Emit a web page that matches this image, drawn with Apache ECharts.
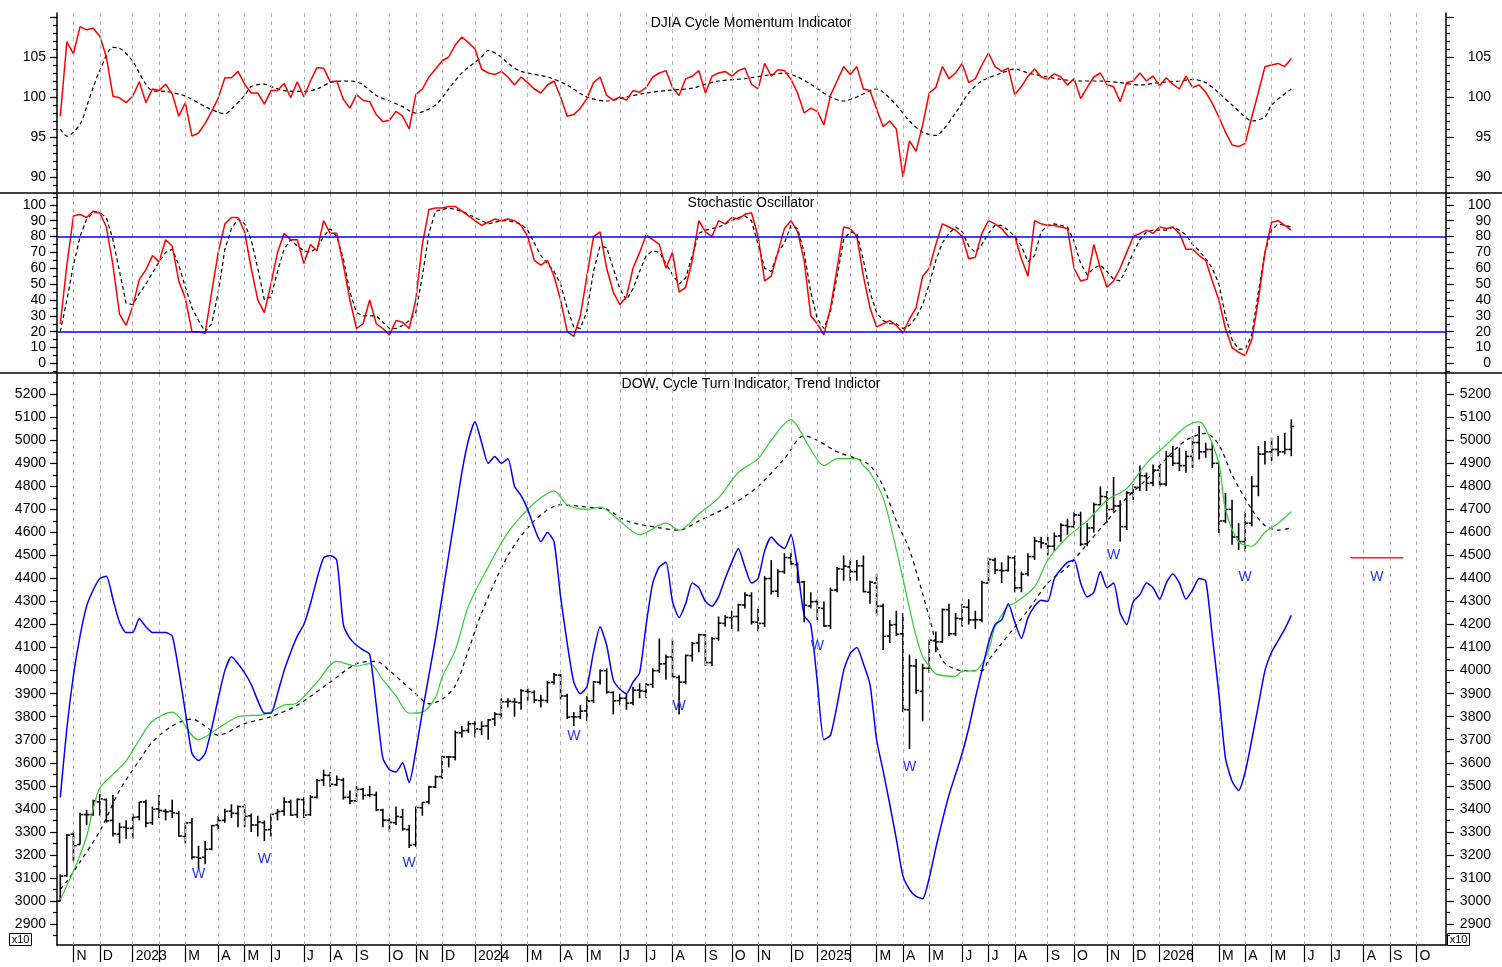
<!DOCTYPE html>
<html><head><meta charset="utf-8">
<script src="https://cdn.jsdelivr.net/npm/echarts@6/dist/echarts.min.js"></script>
<style>html,body{margin:0;padding:0;background:#fff}#c{width:1502px;height:967px}</style>
</head><body><div id="c"></div>
<script>
// ---------- categories (weekly, Friday dates) ----------
const startDate = [2022, 9, 21];
const weekCount = 211;
const monthLetters = ['', '', 'M', 'A', 'M', 'J', 'J', 'A', 'S', 'O', 'N', 'D'];

// ---------- tick labels ----------
const momLabels = [90, 95, 100, 105];
const momMajor = [90, 95, 100, 105, 110];
const stochLabels = [0, 10, 20, 30, 40, 50, 60, 70, 80, 90, 100];
const stochLines = [20, 80];
const dowLabels = [2900,3000,3100,3200,3300,3400,3500,3600,3700,3800,3900,4000,4100,4200,4300,4400,4500,4600,4700,4800,4900,5000,5100,5200];

// ---------- DJIA Cycle Momentum Indicator ----------
const momentum = [97.6,106.9,105.4,108.8,108.4,108.6,107.6,105.0,100.1,99.9,99.3,100.1,101.9,99.3,101.0,100.8,101.6,100.4,97.6,99.3,
95.1,95.5,96.7,98.2,99.9,102.4,102.4,103.2,101.6,100.5,100.5,99.1,100.8,100.8,101.7,99.9,101.9,100.0,102.0,103.7,
103.6,101.9,102.0,99.7,98.6,100.3,99.6,99.4,97.8,96.9,97.1,98.2,97.6,96.0,100.3,101.0,102.5,103.5,104.5,105.0,
106.5,107.5,106.8,106.0,103.5,103.0,102.8,103.2,102.5,101.5,102.5,101.8,101.0,100.5,101.5,102.0,100.0,97.6,97.8,98.6,
99.8,101.8,102.5,100.2,99.6,100.0,99.6,100.8,100.6,101.2,102.5,103.0,103.3,101.2,100.2,102.3,102.6,103.3,100.5,102.6,
103.0,103.2,102.6,103.3,103.6,101.6,101.0,104.2,102.6,103.4,103.3,102.2,100.5,98.0,98.6,98.2,96.5,100.2,102.0,103.8,
102.8,103.8,101.0,100.8,98.5,96.3,97.0,96.0,90.0,94.5,93.2,96.5,100.5,101.2,103.8,102.3,103.0,104.2,101.8,102.3,
104.0,105.5,103.8,103.2,103.6,100.3,101.3,102.6,103.5,102.5,102.2,102.9,102.5,101.5,102.3,99.8,101.2,102.5,103.0,101.5,
101.3,99.4,101.8,102.0,103.0,102.0,102.6,101.4,102.4,101.6,101.0,102.6,101.2,101.5,100.6,99.2,97.5,95.6,94.0,93.8,
94.2,97.5,100.6,103.8,104.0,104.2,103.8,104.8];
const momentumAvg = [[0,96],[1,95.1],[3,96.6],[4,98.8],[5,101.2],[6,103.3],[8,106.2],[9,106.1],[11,104.5],[12,103],[13,101.6],[14,100.8],
[16,100.7],[19,100.1],[22,98.8],[24,98.1],[25,97.9],[26,98.5],[28,100.2],[29,101.3],[31,101.6],[32,101.3],[34,100.8],[37,100.7],[39,101],
[41,101.8],[43,102],[45,101.9],[46,101.5],[48,100.2],[50,99.5],[52,98.8],[54,98],[57,99],[59,101],[61,103],[64,105],[65,105.8],[67,105],
[68,104.2],[70,103.2],[74,102.5],[77,101.5],[80,100],[83,99.5],[86,100],[89,100.5],[92,100.8],[96,101.1],[98,101.6],[100,102],[104,102.3],
[108,102.8],[110,103],[112,102.5],[114,101.6],[117,100],[119,99.5],[121,100],[124,101],[125,100.6],[127,99],[129,97],[131,95.6],[133,95.2],
[134,95.8],[136,98],[138,100.5],[140,102],[143,103],[145,103.5],[147,103],[150,102.5],[152,102.2],[155,102],[158,102],[161,101.8],[164,101.5],
[167,101.8],[170,102],[172,102.2],[174,101.8],[176,100.5],[178,99],[180,97.5],[181,97],[183,97.5],[184,99],[187,101]];

// ---------- Stochastic Oscillator ----------
const stochK = [25,62,93,94,92,96,95,86,62,31,24,36,53,59,68,64,78,74,52,41,
20,20,19,45,70,88,92,92,83,60,40,32,50,70,82,78,78,63,75,71,
90,82,82,62,40,22,25,40,25,22,18,27,26,22,40,75,97,98,98,99,
99,96,93,90,87,89,91,90,91,90,87,80,65,62,65,55,40,20,17,30,
55,80,83,60,45,37,42,60,70,81,78,75,60,70,45,48,65,90,83,80,
90,88,92,91,94,95,80,52,55,70,85,90,83,65,30,25,18,35,60,86,
85,80,55,35,23,25,27,24,19,28,35,55,60,75,88,86,84,80,66,67,
82,90,88,85,80,80,66,55,90,88,87,87,86,85,60,52,53,75,60,48,
52,60,70,80,82,84,82,86,85,86,82,72,72,68,65,52,40,22,10,7,
5,15,40,70,89,90,87,84];
const stochD = [20,40,62,80,91,95,95,92,78,58,38,37,44,50,57,64,70,72,62,48,
35,27,20,25,45,72,85,91,88,78,60,40,42,58,72,78,74,71,70,73,
80,85,80,66,45,32,30,30,30,26,22,22,24,27,32,55,82,96,97,98,
97,96,94,92,90,88,89,90,90,89,88,84,76,68,63,58,50,35,23,22,
33,58,74,73,60,47,40,47,58,68,71,70,63,56,50,54,68,82,84,85,
86,88,90,92,93,90,75,60,58,70,76,87,85,70,45,28,22,33,55,78,
83,82,65,45,32,27,25,25,22,24,29,37,50,65,76,82,86,83,74,70,
75,82,87,87,84,80,74,64,68,83,87,88,87,86,77,63,56,60,62,58,
53,52,60,70,78,83,84,84,84,86,84,81,75,71,66,60,50,30,15,9,
9,18,45,70,84,88,87,86];

// ---------- DOW weekly bars (x10) ----------
const dowOpen = [3000,3110,3290,3245,3375,3375,3430,3440,3350,3290,3320,3315,3365,3430,3340,3400,3390,3390,3380,3280,
3340,3190,3190,3225,3330,3350,3390,3380,3410,3370,3330,3340,3310,3380,3390,3430,3375,3440,3375,3450,
3525,3545,3505,3525,3450,3435,3485,3460,3460,3395,3350,3340,3365,3310,3245,3405,3430,3495,3540,3625,
3625,3730,3740,3770,3745,3760,3790,3810,3865,3865,3860,3910,3905,3870,3870,3950,3980,3890,3800,3800,
3825,3870,3950,4000,3905,3870,3880,3860,3915,3910,3940,4000,4030,4060,3970,3950,4065,4120,4155,4035,
4140,4205,4230,4235,4285,4325,4210,4205,4400,4345,4430,4490,4460,4385,4280,4300,4270,4195,4350,4440,
4450,4430,4455,4340,4380,4280,4150,4200,4160,3830,4020,3910,4010,4130,4125,4265,4160,4225,4275,4220,
4220,4380,4480,4435,4435,4490,4360,4420,4495,4560,4550,4540,4585,4630,4625,4675,4550,4620,4720,4755,
4700,4715,4625,4770,4795,4845,4815,4870,4810,4930,4900,4890,4930,4990,4950,4960,4900,4650,4700,4580,
4560,4640,4800,4940,4950,4960,4950,4960];
const dowHigh = [3115,3290,3300,3383,3395,3440,3465,3445,3460,3340,3350,3380,3430,3440,3410,3460,3400,3440,3390,3340,
3360,3240,3260,3330,3370,3400,3420,3415,3420,3380,3370,3350,3380,3400,3450,3440,3445,3450,3460,3530,
3570,3560,3545,3535,3480,3500,3490,3500,3475,3400,3360,3410,3400,3330,3410,3430,3500,3545,3630,3630,
3740,3760,3780,3780,3780,3790,3820,3880,3880,3880,3920,3925,3915,3895,3955,3990,3985,3900,3820,3850,
3890,3955,4005,4010,3910,3900,3900,3930,3945,3945,4010,4140,4070,4135,3980,4070,4125,4160,4160,4145,
4235,4240,4260,4290,4340,4340,4270,4410,4480,4440,4510,4510,4470,4390,4340,4310,4300,4360,4450,4500,
4480,4480,4500,4390,4420,4290,4220,4260,4250,4070,4050,4030,4135,4170,4270,4290,4250,4290,4310,4260,
4390,4490,4490,4470,4500,4500,4430,4510,4580,4580,4580,4600,4640,4660,4690,4690,4640,4730,4800,4780,
4840,4740,4780,4810,4890,4860,4895,4888,4953,4975,4968,4953,5018,5062,4989,4989,4900,4771,4742,4640,
4691,4844,4975,4997,5011,5018,5033,5091];
const dowLow = [2998,3105,3175,3245,3330,3370,3370,3340,3280,3250,3270,3270,3350,3320,3330,3360,3350,3360,3280,3250,
3180,3140,3160,3220,3310,3340,3360,3320,3320,3300,3280,3260,3280,3350,3370,3370,3360,3360,3370,3445,
3500,3495,3500,3440,3420,3430,3440,3450,3390,3320,3300,3330,3305,3230,3235,3370,3420,3490,3530,3580,
3610,3710,3730,3710,3720,3700,3760,3790,3840,3800,3830,3870,3860,3840,3860,3940,3875,3790,3760,3790,
3780,3860,3940,3900,3810,3850,3830,3850,3880,3880,3925,3990,3960,3970,3810,3940,4040,4080,4020,4020,
4130,4190,4180,4170,4270,4200,4170,4190,4330,4320,4420,4460,4380,4210,4270,4220,4190,4180,4340,4390,
4390,4390,4340,4290,4240,4090,4120,4150,3820,3660,3900,3780,3990,4080,4120,4150,4150,4190,4200,4180,
4210,4380,4420,4380,4430,4340,4340,4410,4480,4530,4500,4520,4560,4590,4620,4540,4540,4600,4720,4640,
4690,4560,4610,4740,4780,4780,4800,4797,4800,4888,4866,4859,4880,4917,4924,4880,4597,4640,4546,4524,
4517,4626,4757,4895,4910,4931,4938,4931];
const dowClose = [3108,3286,3240,3375,3375,3435,3443,3348,3292,3320,3315,3363,3430,3338,3398,3393,3387,3383,3282,3339,
3191,3186,3224,3327,3349,3389,3381,3410,3367,3330,3343,3309,3376,3388,3430,3373,3441,3373,3451,3523,
3546,3507,3528,3450,3435,3484,3458,3462,3396,3351,3341,3367,3313,3242,3406,3428,3495,3539,3625,3625,
3731,3739,3769,3747,3759,3786,3811,3865,3867,3863,3913,3909,3872,3871,3948,3981,3890,3798,3799,3824,
3868,3951,4000,3907,3869,3880,3859,3915,3912,3938,4000,4029,4059,3974,3950,4066,4118,4156,4035,4139,
4206,4231,4235,4286,4328,4211,4205,4399,4344,4430,4491,4464,4383,4284,4299,4273,4194,4349,4442,4454,
4430,4455,4343,4384,4280,4149,4198,4158,3831,4021,3914,4011,4132,4125,4265,4160,4227,4276,4220,4221,
4382,4483,4437,4434,4490,4359,4418,4495,4563,4554,4540,4583,4631,4625,4676,4548,4619,4721,4756,4699,
4715,4625,4772,4796,4846,4813,4870,4810,4930,4900,4890,4930,4990,4950,4960,4900,4650,4700,4580,4560,
4640,4800,4940,4950,4960,4950,4960,5060];

// ---------- Cycle Turn Indicator (blue) ----------
const cycleTurn = [3450,3750,3980,4150,4280,4350,4400,4410,4310,4210,4165,4165,4225,4190,4165,4165,4165,4150,4000,3820,
3640,3610,3640,3750,3880,4000,4060,4030,3990,3940,3870,3815,3815,3900,4000,4080,4150,4200,4290,4400,
4490,4500,4480,4200,4140,4110,4090,4070,3850,3620,3570,3560,3600,3514,3650,3820,3980,4140,4320,4500,
4680,4860,5000,5080,4990,4900,4930,4900,4920,4800,4760,4700,4620,4560,4600,4560,4320,4120,3950,3900,
3930,4080,4190,4110,3960,3920,3900,3950,3990,4200,4380,4450,4470,4300,4230,4290,4380,4360,4300,4280,
4320,4400,4470,4530,4450,4380,4400,4520,4580,4550,4530,4590,4440,4240,4200,3950,3700,3720,3850,4000,
4075,4100,4030,3940,3700,3565,3420,3270,3110,3050,3020,3010,3100,3230,3350,3460,3550,3640,3750,3880,
4000,4120,4200,4220,4290,4210,4140,4230,4280,4306,4300,4400,4440,4470,4480,4380,4320,4340,4430,4360,
4380,4250,4200,4300,4330,4380,4360,4310,4380,4420,4380,4310,4350,4400,4390,4150,3900,3620,3520,3480,
3560,3700,3850,4000,4080,4130,4180,4240];

// ---------- Trend indicator (green) and its average (black dashed) ----------
const trendGreen = [[0,3005],[2,3130],[3,3200],[4,3280],[5,3400],[6,3490],[8,3550],[10,3608],[12,3700],[14,3780],[17,3820],[18,3800],
[21,3700],[24,3750],[27,3800],[31,3810],[34,3850],[36,3860],[39,3950],[42,4040],[45,4020],[47,4030],[49,3960],[51,3890],[53,3815],
[55,3820],[57,3884],[58,3971],[60,4088],[62,4280],[65,4450],[68,4600],[71,4700],[73,4750],[75,4780],[77,4720],[80,4700],[82,4710],
[85,4650],[88,4590],[92,4640],[94,4610],[97,4680],[100,4750],[103,4860],[106,4920],[108,5000],[111,5090],[112,5060],[114,4960],
[116,4890],[118,4920],[121,4920],[122,4890],[123,4860],[125,4750],[127,4525],[128,4400],[129,4270],[130,4150],[131,4060],[132,4020],
[133,3986],[136,3975],[137,3998],[139,4000],[141,4088],[142,4190],[144,4280],[145,4293],[148,4364],[150,4480],[153,4580],[156,4650],
[159,4740],[162,4790],[165,4900],[168,4980],[171,5060],[173,5080],[174,5050],[176,4900],[177,4700],[179,4560],[181,4540],[183,4600],
[185,4640],[187,4690]];
const trendDashed = [[0,3050],[1,3085],[3,3170],[6,3303],[9,3480],[12,3610],[14,3690],[17,3760],[20,3790],[22,3760],[24,3720],[28,3770],
[32,3800],[36,3850],[41,3950],[45,4030],[48,4040],[50,4000],[52,3950],[54,3899],[56,3856],[58,3875],[60,3935],[62,4088],[64,4250],
[68,4500],[72,4650],[76,4720],[80,4710],[83,4700],[86,4650],[91,4620],[94,4610],[97,4650],[102,4720],[106,4800],[110,4920],[113,5020],
[115,5000],[118,4950],[121,4920],[123,4890],[125,4800],[127,4650],[129,4525],[132,4233],[134,4045],[137,4000],[140,4000],[141,4045],
[147,4262],[150,4380],[153,4450],[156,4550],[159,4650],[162,4750],[165,4830],[168,4920],[171,5000],[174,5030],[176,4980],[178,4850],
[181,4700],[183,4630],[185,4610],[187,4620]];

// ---------- "W" marks and projection ----------
const wMarks = [[21,3116],[31,3181],[53,3164],[78,3717],[94,3844],[115,4106],[129,3583],[160,4502],[180,4406],[200,4406]];
const projection = [[196,4490],[204,4490]];

// ---------- build ----------
const categories = [];
{ let t = Date.UTC(startDate[0], startDate[1], startDate[2]);
  for (let i = 0; i < weekCount; i++) { categories.push(new Date(t).toISOString().slice(0, 10)); t += 7 * 864e5; } }
const monthStarts = [];
for (let i = 1; i < weekCount; i++) if (categories[i].slice(5, 7) !== categories[i - 1].slice(5, 7)) monthStarts.push(i);
const msSet = new Set(monthStarts);
function monthLabel(cat) { const m = +cat.slice(5, 7) - 1; return m === 0 ? cat.slice(0, 4) : monthLetters[m]; }
function range(a, b, s) { const r = []; for (let v = a; v <= b + 1e-9; v += s) r.push(+v.toFixed(3)); return r; }

const FONT = "'Liberation Sans', Arial, sans-serif";
const grids = [
  { left: 57, right: 56, top: 13, height: 180 },
  { left: 57, right: 56, top: 193, height: 180 },
  { left: 57, right: 56, top: 373, height: 572 }
];
const yCfg = [
  { min: 88, max: 110.5, labels: momLabels, major: momMajor, minor: range(88, 110, 1) },
  { min: -6.05, max: 107.45, labels: stochLabels, major: stochLabels, minor: range(-5, 105, 5) },
  { min: 2809, max: 5292, labels: dowLabels, major: dowLabels, minor: range(2850, 5250, 100) }
];
const yAxes = [];
yCfg.forEach((c, g) => {
  ['left', 'right'].forEach(pos => {
    yAxes.push({
      type: 'value', gridIndex: g, position: pos, min: c.min, max: c.max, splitLine: { show: false },
      axisLine: { show: true, lineStyle: { color: '#000', width: 1.5 } },
      axisTick: { show: true, customValues: c.major, length: pos === 'left' ? 7 : 8, lineStyle: { color: '#000', width: 1.2 } },
      axisLabel: { show: true, customValues: c.labels, color: '#000', fontSize: 14, fontFamily: FONT,
        formatter: (v) => String(Math.round(v)), align: 'right', margin: pos === 'left' ? 11 : 45 }
    });
    yAxes.push({
      type: 'value', gridIndex: g, position: pos, min: c.min, max: c.max, splitLine: { show: false },
      axisLine: { show: false }, axisLabel: { show: false },
      axisTick: { show: true, customValues: c.minor, length: 4, lineStyle: { color: '#000', width: 1.2 } }
    });
  });
});
const xAxes = [0, 1, 2].map(g => ({
  type: 'category', gridIndex: g, data: categories, boundaryGap: true,
  axisLine: { show: g === 2, onZero: false, lineStyle: { color: '#000', width: 1.5 } },
  axisTick: { show: g === 2, alignWithLabel: true, interval: (i) => msSet.has(i), length: 17, lineStyle: { color: '#000', width: 1.2 } },
  axisLabel: { show: g === 2, interval: (i) => msSet.has(i), formatter: (v) => monthLabel(v), align: 'left', margin: 4,
    padding: [0, 0, 0, 3], color: '#000', fontSize: 14, fontFamily: FONT },
  splitLine: { show: false }
}));
const vGrid = (g) => ({
  type: 'line', xAxisIndex: g, yAxisIndex: g * 4, data: [], z: 1, silent: true,
  markLine: { silent: true, symbol: ['none', 'none'], label: { show: false }, animation: false,
    lineStyle: { color: '#b4b4b4', type: [4, 4], width: 1 },
    data: monthStarts.map(i => ({ xAxis: categories[i] })) }
});
const dowData = dowClose.map((c, i) => [i, dowOpen[i], dowHigh[i], dowLow[i], c]);
const titleStyle = { fontSize: 14, fontWeight: 'normal', color: '#000', fontFamily: FONT };

const option = {
  animation: false,
  backgroundColor: '#fff',
  grid: grids,
  xAxis: xAxes,
  yAxis: yAxes,
  title: [
    { text: 'DJIA Cycle Momentum Indicator', left: 'center', top: 16, padding: 0, textStyle: titleStyle },
    { text: 'Stochastic Oscillator', left: 'center', top: 196, padding: 0, textStyle: titleStyle },
    { text: 'DOW, Cycle Turn Indicator, Trend Indictor', left: 'center', top: 377, padding: 0, textStyle: titleStyle }
  ],
  graphic: [
    { type: 'line', shape: { x1: 0, y1: 193, x2: 1502, y2: 193 }, style: { stroke: '#000', lineWidth: 1.5 }, z: 10 },
    { type: 'line', shape: { x1: 0, y1: 373, x2: 1502, y2: 373 }, style: { stroke: '#000', lineWidth: 1.5 }, z: 10 },
    { type: 'rect', shape: { x: 9.5, y: 933.5, width: 22, height: 12 }, style: { fill: '#fff', stroke: '#000', lineWidth: 1 } },
    { type: 'text', x: 20.5, y: 940, style: { text: 'x10', fill: '#000', font: '11px ' + FONT, align: 'center', verticalAlign: 'middle' } },
    { type: 'rect', shape: { x: 1447.5, y: 933.5, width: 22, height: 12 }, style: { fill: '#fff', stroke: '#000', lineWidth: 1 } },
    { type: 'text', x: 1458.5, y: 940, style: { text: 'x10', fill: '#000', font: '11px ' + FONT, align: 'center', verticalAlign: 'middle' } }
  ],
  series: [
    vGrid(0), vGrid(1), vGrid(2),
    { type: 'line', xAxisIndex: 0, yAxisIndex: 0, data: momentum, symbol: 'none', z: 3,
      lineStyle: { color: '#ff0000', width: 1.5 } },
    { type: 'line', xAxisIndex: 0, yAxisIndex: 0, data: momentumAvg, symbol: 'none', smooth: 0.3, z: 2,
      lineStyle: { color: '#000', width: 1.2, type: [4, 3] } },
    { type: 'line', xAxisIndex: 1, yAxisIndex: 4, data: [], z: 2, silent: true,
      markLine: { silent: true, symbol: ['none', 'none'], label: { show: false },
        lineStyle: { color: '#0000ff', type: 'solid', width: 1.5 }, data: stochLines.map(v => ({ yAxis: v })) } },
    { type: 'line', xAxisIndex: 1, yAxisIndex: 4, data: stochD, symbol: 'none', z: 3,
      lineStyle: { color: '#000', width: 1.2, type: [4, 3] } },
    { type: 'line', xAxisIndex: 1, yAxisIndex: 4, data: stochK, symbol: 'none', z: 4,
      lineStyle: { color: '#ff0000', width: 1.5 } },
    { type: 'custom', xAxisIndex: 2, yAxisIndex: 8, data: dowData, z: 3,
      encode: { x: 0, y: [1, 2, 3, 4] },
      renderItem: (params, api) => {
        const i = api.value(0);
        const x = api.coord([i, api.value(4)])[0];
        const yo = api.coord([i, api.value(1)])[1];
        const yh = api.coord([i, api.value(2)])[1];
        const yl = api.coord([i, api.value(3)])[1];
        const yc = api.coord([i, api.value(4)])[1];
        const st = { stroke: '#000', lineWidth: 1.6 };
        return { type: 'group', children: [
          { type: 'line', shape: { x1: x, y1: yh, x2: x, y2: yl }, style: st },
          { type: 'line', shape: { x1: x - 3, y1: yo, x2: x, y2: yo }, style: st },
          { type: 'line', shape: { x1: x, y1: yc, x2: x + 3, y2: yc }, style: st }
        ] };
      } },
    { type: 'line', xAxisIndex: 2, yAxisIndex: 8, data: trendDashed, symbol: 'none', smooth: 0.3, z: 4,
      lineStyle: { color: '#000', width: 1.2, type: [4, 4] } },
    { type: 'line', xAxisIndex: 2, yAxisIndex: 8, data: trendGreen, symbol: 'none', smooth: 0.3, z: 5,
      lineStyle: { color: '#33cc33', width: 1.2 } },
    { type: 'line', xAxisIndex: 2, yAxisIndex: 8, data: cycleTurn, symbol: 'none', smooth: 0.2, z: 6,
      lineStyle: { color: '#0000ff', width: 1.5 } },
    { type: 'line', xAxisIndex: 2, yAxisIndex: 8, data: projection, symbol: 'none', z: 6,
      lineStyle: { color: '#ff2020', width: 1.5 } },
    { type: 'custom', xAxisIndex: 2, yAxisIndex: 8, data: wMarks, z: 7, encode: { x: 0, y: 1 },
      renderItem: (params, api) => {
        const p = api.coord([api.value(0), api.value(1)]);
        return { type: 'text', x: p[0], y: p[1],
          style: { text: 'W', fill: '#2233ff', font: '14px ' + FONT, align: 'center', verticalAlign: 'middle' } };
      } }
  ]
};
const chart = echarts.init(document.getElementById('c'), null, { renderer: 'canvas' });
chart.setOption(option);
</script>
</body></html>
